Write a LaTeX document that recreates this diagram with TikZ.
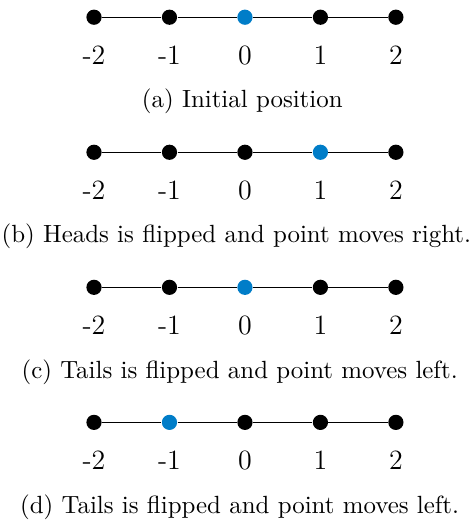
\documentclass[tikz,border=0pt]{standalone}
\usepackage{tikz}
\definecolor{pointblue}{RGB}{0,125,200}
\tikzset{
  site/.style={circle,fill=black,inner sep=0pt,minimum size=0.23cm},
  walker/.style={site,fill=pointblue},
  tick/.style={inner sep=0pt,anchor=base,font=\large},
  caption/.style={inner sep=0pt,anchor=base,font=\fontsize{10.7}{13}\selectfont},
}

\begin{document}
\begin{tikzpicture}[x=1.14cm,y=2.04cm]
\useasboundingbox (-1.42cm,0.26cm) rectangle (5.72cm,-7.64cm);

\foreach \row/\pos/\dx/\cap in {0/0/-0.04/{(a) Initial position},
                            1/1/-0.13/{(b) Heads is flipped and point moves right.},
                            2/0/-0.08/{(c) Tails is flipped and point moves left.},
                            3/-1/-0.08/{(d) Tails is flipped and point moves left.}}{
  \foreach \k in {-2,...,2}{
    \ifnum\k=\pos \def\sty{walker}\else\def\sty{site}\fi
    \node[\sty] (r\row n\k) at (\k+2,-\row) {};
    \node[tick] (r\row l\k) at ([yshift=-0.71cm]r\row n\k) {\k};
  }
  \draw (r\row n-2) -- (r\row n-1) -- (r\row n0) -- (r\row n1) -- (r\row n2);
  \node[caption] (r\row cap) at ([yshift=-1.37cm,xshift=\dx cm]r\row n0) {\cap};
}

\end{tikzpicture}
\end{document}
